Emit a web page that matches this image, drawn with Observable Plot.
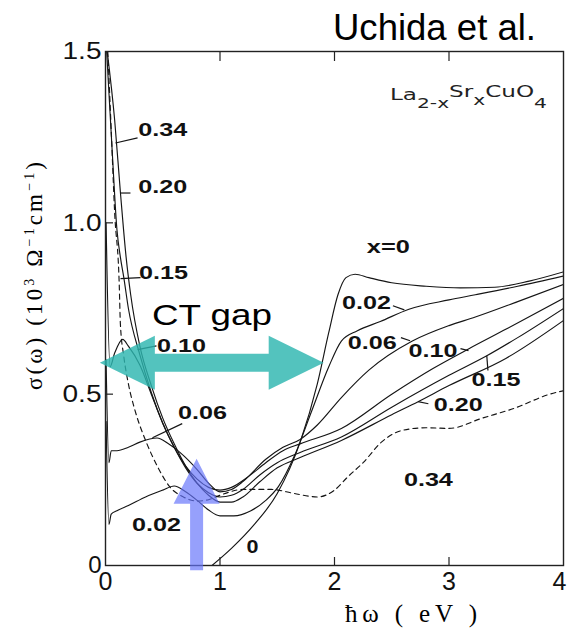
<!DOCTYPE html>
<html><head><meta charset="utf-8">
<script src="https://cdn.jsdelivr.net/npm/d3@7"></script>
<script src="https://cdn.jsdelivr.net/npm/@observablehq/plot@0.6"></script>
<style>
html,body{margin:0;padding:0;background:#fff;}
#chart{width:568px;height:631px;}
</style></head><body><div id="chart"></div>
<script>
// ---- data: [photon energy (eV), sigma (10^3 Ohm^-1 cm^-1)] ----
const s_x000 = [[0.93,0],[1.1,0.05],[1.3,0.12],[1.5,0.21],[1.7,0.36],[1.85,0.53],[1.95,0.68],[2.03,0.79],[2.1,0.84],[2.18,0.85],[2.3,0.84],[2.5,0.825],[2.8,0.815],[3.1,0.81],[3.4,0.812],[3.7,0.83],[4.0,0.857]];
const s_x002 = [[0.005,0.42],[0.03,0.12],[0.05,0.15],[0.1,0.16],[0.2,0.175],[0.35,0.2],[0.5,0.22],[0.6,0.232],[0.7,0.215],[0.8,0.19],[0.9,0.162],[1.0,0.145],[1.12,0.145],[1.27,0.16],[1.4,0.19],[1.51,0.23],[1.65,0.32],[1.8,0.45],[1.95,0.58],[2.06,0.655],[2.2,0.685],[2.4,0.712],[2.65,0.748],[3.0,0.775],[3.23,0.79],[3.6,0.815],[4.0,0.845]];
const s_x006 = [[0.005,0.6],[0.03,0.30],[0.05,0.335],[0.1,0.335],[0.2,0.345],[0.3,0.36],[0.45,0.372],[0.55,0.355],[0.65,0.33],[0.8,0.28],[0.9,0.24],[1.0,0.215],[1.1,0.222],[1.2,0.245],[1.4,0.31],[1.55,0.345],[1.7,0.368],[1.85,0.41],[2.06,0.49],[2.3,0.57],[2.68,0.655],[3.0,0.70],[3.23,0.725],[3.6,0.77],[4.0,0.82]];
const s_x010 = [[0.005,1.0],[0.04,0.58],[0.08,0.62],[0.15,0.66],[0.2,0.64],[0.3,0.585],[0.4,0.5],[0.5,0.415],[0.6,0.345],[0.7,0.29],[0.8,0.252],[0.9,0.228],[1.0,0.22],[1.1,0.228],[1.25,0.26],[1.4,0.3],[1.55,0.335],[1.7,0.355],[2.06,0.40],[2.5,0.5],[2.86,0.575],[3.17,0.632],[3.5,0.69],[4.0,0.78]];
const s_x015 = [[0.01,1.5],[0.06,1.2],[0.1,0.98],[0.13,0.9],[0.16,0.84],[0.2,0.75],[0.3,0.615],[0.4,0.505],[0.5,0.415],[0.6,0.345],[0.7,0.285],[0.8,0.24],[0.9,0.212],[1.0,0.2],[1.1,0.205],[1.2,0.222],[1.35,0.265],[1.5,0.3],[1.7,0.33],[2.06,0.375],[2.5,0.462],[3.0,0.555],[3.33,0.612],[3.6,0.665],[4.0,0.75]];
const s_x020 = [[0.015,1.5],[0.08,1.3],[0.13,1.09],[0.18,0.9],[0.22,0.79],[0.3,0.64],[0.4,0.525],[0.5,0.43],[0.6,0.355],[0.7,0.29],[0.8,0.24],[0.9,0.205],[1.0,0.185],[1.1,0.185],[1.2,0.2],[1.35,0.245],[1.5,0.285],[1.7,0.315],[2.06,0.365],[2.5,0.44],[2.73,0.478],[3.0,0.525],[3.5,0.605],[4.0,0.715]];
const s_x034 = [[0.02,1.5],[0.05,1.27],[0.08,1.03],[0.12,0.82],[0.13,0.705],[0.16,0.61],[0.2,0.53],[0.26,0.45],[0.35,0.365],[0.46,0.285],[0.56,0.23],[0.68,0.2],[0.8,0.188],[0.9,0.192],[1.0,0.205],[1.2,0.222],[1.45,0.222],[1.65,0.21],[1.85,0.2],[2.0,0.22],[2.12,0.26],[2.25,0.3],[2.41,0.36],[2.6,0.395],[2.8,0.402],[3.0,0.40],[3.29,0.43],[3.58,0.46],[3.88,0.5],[4.0,0.51]];

const solidNames = ["0","0.02","0.06","0.10","0.15","0.20"];
const solidSeries = [s_x000, s_x002, s_x006, s_x010, s_x015, s_x020];
const dashedNames = ["0.34"];
const dashedSeries = [s_x034];

// curve labels
const labelText = ["0.34","0.20","0.15","0.10","0.06","0.02","0","x=0","0.02","0.06","0.10","0.15","0.20","0.34"];
const labelE    = [0.50, 0.50, 0.507, 0.664, 0.847, 0.445, 1.284, 2.47, 2.28, 2.33, 2.86, 3.41, 3.08, 2.82];
const labelS    = [1.269,1.103,0.852, 0.639, 0.443, 0.117, 0.053, 0.928,0.764,0.648,0.624,0.54, 0.467,0.248];
// leader lines from label to curve
const leadE1 = [0.28, 0.218, 0.306, 0.445, 0.67, 2.51, 2.58, 3.10, 3.34, 2.82];
const leadS1 = [1.248,1.087, 0.84, 0.641, 0.414,0.758,0.665,0.633,0.569,0.472];
const leadE2 = [0.087,0.131, 0.131,0.28, 0.41, 2.61, 2.66, 3.17, 3.33, 2.73];
const leadS2 = [1.233,1.087, 0.837,0.63, 0.373,0.746,0.656,0.627,0.612,0.478];

const xTicks = [0,1,2,3,4];
const yTicks = [0,0.5,1.0,1.5];
const topTicks = [1,2,3];
const bottomTicks = [1,2,3];
const leftTicks = [0.5,1.0];

// annotations (data coordinates)
const ctGapE = [-0.045, 1.91];   // double arrow ends
const ctGapS = 0.59;
const ctGapText = "CT gap";
const blueArrowE = 0.8;
const blueArrowS = [-0.015, 0.31];

const title = "Uchida et al.";

// ---- tables ----
const toTable = (names, series) => names.flatMap((n, i) => series[i].map(([e, s]) => ({series: n, e, s})));
const solidTable = toTable(solidNames, solidSeries);
const dashedTable = toTable(dashedNames, dashedSeries);
const labels = labelText.map((t, i) => ({t, e: labelE[i], s: labelS[i]}));
const leaders = leadE1.map((_, i) => ({e1: leadE1[i], s1: leadS1[i], e2: leadE2[i], s2: leadS2[i]}));

const W = 568, H = 631, mL = 105, mR = 5, mT = 51, mB = 66;
const plotW = W - mL - mR, plotH = H - mT - mB;
const sans = "'Liberation Sans', Arial, Helvetica, sans-serif";
const serif = "'Liberation Serif', 'DejaVu Serif', 'Times New Roman', serif";

const chart = Plot.plot({
  width: W, height: H,
  marginLeft: mL, marginRight: mR, marginTop: mT, marginBottom: mB,
  x: {domain: [0, 4]},
  y: {domain: [0, 1.5]},
  style: {background: "#fff", fontFamily: sans, color: "#111", overflow: "visible"},
  marks: [
    Plot.axisX({ticks: xTicks, tickSize: 0, tickPadding: 7, fontSize: 25, label: null, tickFormat: d => String(d)}),
    Plot.axisY({ticks: yTicks, tickSize: 0, tickPadding: 4, fontSize: 24, label: null, tickFormat: d => d === 0 ? "0" : d.toFixed(1)}),
    Plot.line(solidTable, {x: "e", y: "s", z: "series", curve: "monotone-x", stroke: "#151515", strokeWidth: 1.15, clip: true}),
    Plot.line(dashedTable, {x: "e", y: "s", z: "series", curve: "monotone-x", stroke: "#151515", strokeWidth: 1.15, strokeDasharray: "5,4", clip: true}),
    Plot.link(leaders, {x1: "e1", y1: "s1", x2: "e2", y2: "s2", stroke: "#151515", strokeWidth: 1.2}),
    Plot.text(labels, {x: "e", y: "s", text: "t", fontSize: 18, fontWeight: "bold", fontFamily: sans, fill: "#111"}),
    Plot.tickX(topTicks, {x: d => d, insetBottom: plotH - 10, stroke: "#222", strokeWidth: 1.2}),
    Plot.tickX(bottomTicks, {x: d => d, insetTop: plotH - 8, stroke: "#222", strokeWidth: 1.2}),
    Plot.tickY(leftTicks, {y: d => d, insetRight: plotW - 8, stroke: "#222", strokeWidth: 1.2}),
    Plot.frame({stroke: "#222", strokeWidth: 1.4})
  ]
});
document.getElementById("chart").appendChild(chart);

const svg = d3.select(chart);
const X = chart.scale("x").apply, Y = chart.scale("y").apply;

// stretch curve labels to match reference widths
svg.selectAll('g[aria-label="text"] text').each(function() {
  const t = this.textContent;
  const len = t.length === 4 ? 49 : t.length === 3 ? 43 : 12;
  this.setAttribute("textLength", len);
  this.setAttribute("lengthAdjust", "spacingAndGlyphs");
});
// stretch y tick labels
svg.selectAll('g[aria-label="y-axis tick label"] text').each(function() {
  if (this.textContent.length === 3) { this.setAttribute("textLength", 39); this.setAttribute("lengthAdjust", "spacingAndGlyphs"); }
});
// keep the last x tick label inside the picture
svg.selectAll('g[aria-label="x-axis tick label"] text').each(function() {
  if (this.textContent === "4") this.setAttribute("dx", -4);
});

// annotation arrows
const ann = svg.append("g");
{
  const xl = X(ctGapE[0]), xr = X(ctGapE[1]), yc = Y(ctGapS);
  const hl = 55, hh = 27, sh = 9;
  const pts = [[xl,yc],[xl+hl,yc-hh],[xl+hl,yc-sh],[xr-hl,yc-sh],[xr-hl,yc-hh],[xr,yc],[xr-hl,yc+hh],[xr-hl,yc+sh],[xl+hl,yc+sh],[xl+hl,yc+hh]];
  ann.append("path").attr("d", "M" + pts.map(p => p.join(",")).join("L") + "Z")
    .attr("fill", "rgb(45,182,176)").attr("fill-opacity", 0.82);
}
{
  const xc = X(blueArrowE), yb = Y(blueArrowS[0]), yt = Y(blueArrowS[1]);
  const hl = 45, hw = 23, sw = 6.5;
  const pts = [[xc,yt],[xc+hw,yt+hl],[xc+sw,yt+hl],[xc+sw,yb],[xc-sw,yb],[xc-sw,yt+hl],[xc-hw,yt+hl]];
  ann.append("path").attr("d", "M" + pts.map(p => p.join(",")).join("L") + "Z")
    .attr("fill", "rgb(100,115,250)").attr("fill-opacity", 0.68);
}

function addText(o) {
  const t = svg.append("text").attr("x", o.x).attr("y", o.y)
    .style("font-family", o.family || sans).style("font-size", o.size + "px")
    .attr("fill", o.fill || "#000").attr("text-anchor", o.anchor || "start");
  if (o.weight) t.style("font-weight", o.weight);
  if (o.len) t.attr("textLength", o.len).attr("lengthAdjust", o.adjust || "spacingAndGlyphs");
  if (o.rotate) t.attr("transform", `rotate(${o.rotate},${o.x},${o.y})`);
  if (o.parts) {
    o.parts.forEach(p => { const s = t.append("tspan").text(p.t); if (p.dy) s.attr("dy", p.dy); if (p.size) s.style("font-size", p.size + "px"); });
  } else t.text(o.text);
  return t;
}

addText({x: 333, y: 40, text: title, size: 36, len: 203});
addText({x: 152, y: 325, text: ctGapText, size: 30, len: 120});
addText({x: 345, y: 622, size: 25, family: serif, len: 132, adjust: "spacing",
  parts: [{t: "ħω ( eV )"}]});
addText({x: 42, y: 390, size: 23, family: serif, len: 228, adjust: "spacing", rotate: -90,
  parts: [{t: "σ(ω) (10"}, {t: "3", dy: -8, size: 14}, {t: " Ω", dy: 8}, {t: "−1", dy: -8, size: 14}, {t: "cm", dy: 8}, {t: "−1", dy: -8, size: 14}, {t: ")", dy: 8}]});
addText({x: 390, y: 100, size: 16, family: "'DejaVu Sans', sans-serif", fill: "#222", len: 157,
  parts: [{t: "La"}, {t: "2-x", dy: 8, size: 14}, {t: "Sr", dy: -11}, {t: "x", dy: 8, size: 14}, {t: "CuO", dy: -8}, {t: "4", dy: 11, size: 14}]});
</script></body></html>
